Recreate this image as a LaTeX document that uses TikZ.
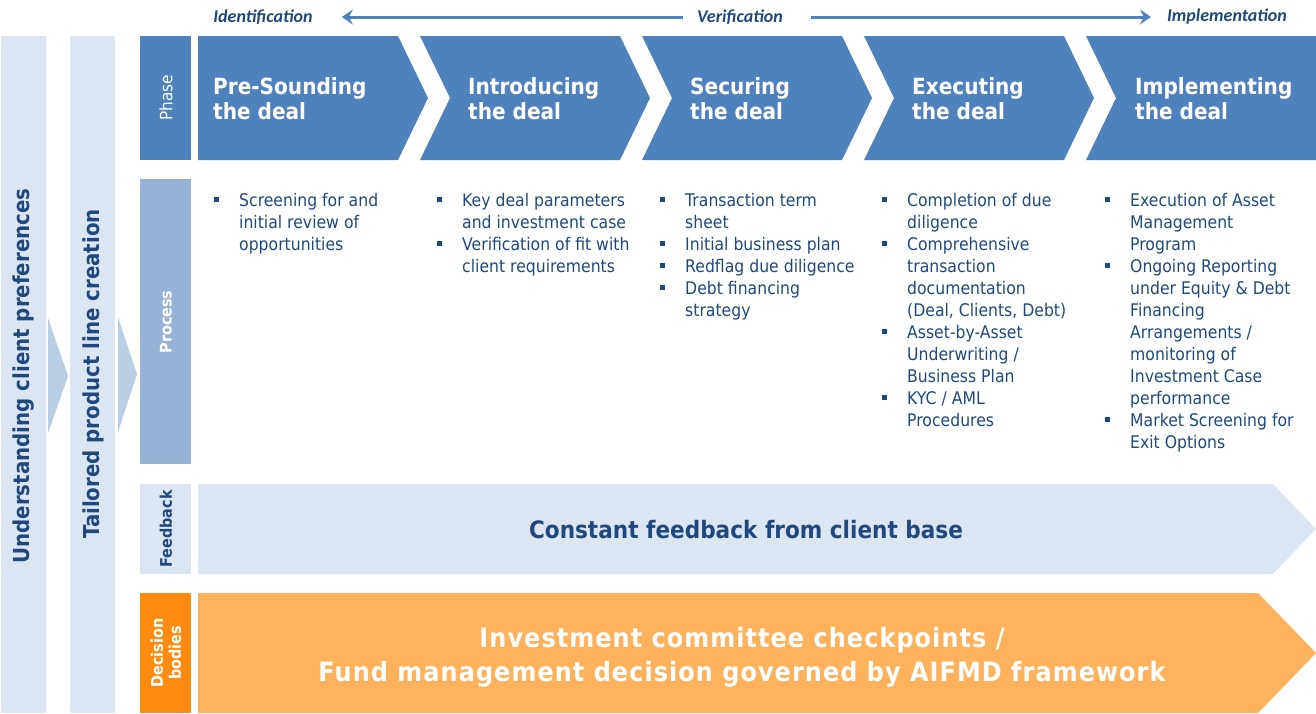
\documentclass[tikz,border=0pt]{standalone}
\usepackage{fontspec}
\setmainfont{DejaVu Sans}[FakeStretch=0.9]
\newfontfamily\stagefont{Carlito}
\usetikzlibrary{arrows.meta}

\definecolor{phaseblue}{HTML}{4F81BD}
\definecolor{procblue}{HTML}{95B3D7}
\definecolor{paleblue}{HTML}{DCE6F2}
\definecolor{stepblue}{HTML}{B9CDE5}
\definecolor{navy}{HTML}{1F497D}
\definecolor{deeporange}{HTML}{FF8C10}
\definecolor{softorange}{HTML}{FFB25C}

% square bullet used in the process lists
\newcommand\sqbullet{\rule[4pt]{5pt}{5pt}}
% a bulleted column: rows of  bullet & text
\newcommand\proclist[1]{\fontsize{17.4}{22}\selectfont
  \begin{tabular}[t]{@{}p{25pt}@{}l@{}}#1\end{tabular}}

\tikzset{
  stagelabel/.style={inner sep=0pt, text=navy, font=\stagefont\bfseries\itshape\fontsize{18}{21}\selectfont},
  flow/.style={draw=phaseblue, line width=3pt, -{Stealth[length=11pt,width=15pt,inset=4pt]}},
  phasetitle/.style={anchor=base west, inner sep=0pt, text=white, align=left,
    font=\bfseries\fontsize{22.3}{25}\selectfont},
  proc/.style={anchor=base west, inner sep=0pt, text=navy},
  sidelabel/.style={rotate=90, inner sep=0pt, align=center},
  barlabel/.style={rotate=90, inner sep=0pt, text=navy, font=\bfseries\fontsize{22}{26}\selectfont},
}

\begin{document}
\begin{tikzpicture}[x=1pt, y=-1pt]
\useasboundingbox (0,0) rectangle (1316,713);

% outer vertical bands and the small steps between them
\fill[paleblue] (1,36) rectangle (46,713);
\fill[paleblue] (70,36) rectangle (115,713);
\fill[stepblue] (48,318) -- (68,376) -- (48,433) -- cycle;
\fill[stepblue] (118,317) -- (137,374) -- (118,432) -- cycle;
\node[barlabel] (clientpref) at (24,376) {Understanding client preferences};
\node[barlabel] (tailored) at (93,374) {Tailored product line creation};

% row headers
\fill[phaseblue] (140,36) rectangle (191,160);
\fill[procblue] (140,179) rectangle (191,464);
\fill[paleblue] (140,484) rectangle (191,574);
\fill[deeporange] (140,593) rectangle (191,713);
\node[sidelabel, text=white, font=\fontsize{17}{19}\selectfont] (hphase) at (166,98) {Phase};
\node[sidelabel, text=white, font=\bfseries\fontsize{16}{19}\selectfont] (hproc) at (166,322) {Process};
\node[sidelabel, text=navy, font=\bfseries\fontsize{16}{19}\selectfont] (hfeed) at (166,529) {Feedback};
\node[sidelabel, text=white, font=\bfseries\fontsize{16}{18}\selectfont] (hdec) at (166,653) {Decision\\bodies};

% phase chevrons
\fill[phaseblue] (198,36) -- (398,36) -- (428,98) -- (398,160) -- (198,160) -- cycle;
\foreach \l in {420,642,864} {
  \fill[phaseblue] (\l,36) -- (\l+200,36) -- (\l+230,98) -- (\l+200,160)
    -- (\l,160) -- (\l+30,98) -- cycle;
}
\fill[phaseblue] (1086,36) -- (1316,36) -- (1316,160) -- (1086,160) -- (1116,98) -- cycle;

\node[phasetitle] (p1) at (213,119) {Pre-Sounding\\the deal};
\node[phasetitle] (p2) at (468,119) {Introducing\\the deal};
\node[phasetitle] (p3) at (690,119) {Securing\\the deal};
\node[phasetitle] (p4) at (912,119) {Executing\\the deal};
\node[phasetitle] (p5) at (1135,119) {Implementing\\the deal};

% stage labels and arrows above the phases
\node[stagelabel] (ident) at (263,17) {Identification};
\node[stagelabel] (verif) at (740,17) {Verification};
\node[stagelabel] (impl) at (1227,17) {Implementation};
\draw[flow] ([xshift=-14pt]verif.west) -- ([xshift=29pt]ident.east);
\draw[flow] ([xshift=28pt]verif.east) -- ([xshift=-16pt]impl.west);

% process lists
\node[proc] (c1) at (214,206) {\proclist{
  \sqbullet & Screening for and\\ & initial review of\\ & opportunities}};
\node[proc] (c2) at (437,206) {\proclist{
  \sqbullet & Key deal parameters\\ & and investment case\\
  \sqbullet & Verification of fit with\\ & client requirements}};
\node[proc] (c3) at (660,206) {\proclist{
  \sqbullet & Transaction term\\ & sheet\\
  \sqbullet & Initial business plan\\
  \sqbullet & Redflag due diligence\\
  \sqbullet & Debt financing\\ & strategy}};
\node[proc] (c4) at (882,206) {\proclist{
  \sqbullet & Completion of due\\ & diligence\\
  \sqbullet & Comprehensive\\ & transaction\\ & documentation\\ & (Deal, Clients, Debt)\\
  \sqbullet & Asset-by-Asset\\ & Underwriting /\\ & Business Plan\\
  \sqbullet & KYC / AML\\ & Procedures}};
\node[proc] (c5) at (1105,206) {\proclist{
  \sqbullet & Execution of Asset\\ & Management\\ & Program\\
  \sqbullet & Ongoing Reporting\\ & under Equity \& Debt\\ & Financing\\ & Arrangements /\\ & monitoring of\\ & Investment Case\\ & performance\\
  \sqbullet & Market Screening for\\ & Exit Options}};

% feedback band
\fill[paleblue] (198,484) -- (1273,484) -- (1316,529) -- (1273,574) -- (198,574) -- cycle;
\node[text=navy, inner sep=0pt, font=\bfseries\fontsize{24}{28}\selectfont] (feedback) at (746,530)
  {Constant feedback from client base};

% decision band
\fill[softorange] (198,593) -- (1258,593) -- (1316,653) -- (1258,713) -- (198,713) -- cycle;
\node[text=white, inner sep=0pt, align=center,
  font=\bfseries\fontsize{26.6}{34}\selectfont\addfontfeatures{LetterSpace=4}] (decision) at (742,657)
  {Investment committee checkpoints /\\Fund management decision governed by AIFMD framework};
\end{tikzpicture}
\end{document}
